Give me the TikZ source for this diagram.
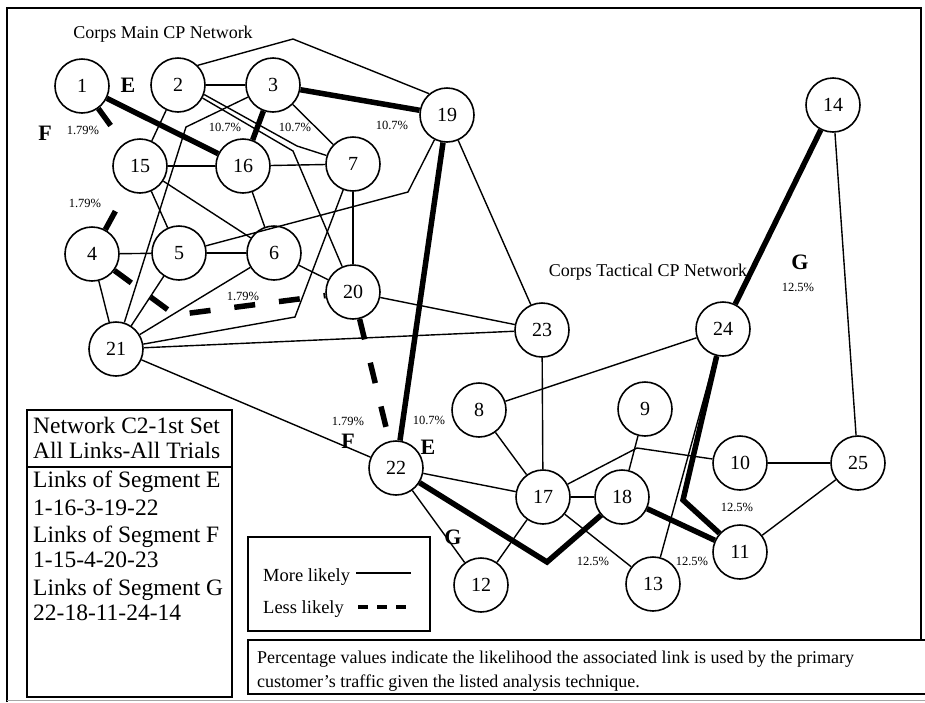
\documentclass[tikz,border=0pt]{standalone}
\usepackage{fontspec}
\setmainfont{Liberation Serif}
\usetikzlibrary{calc}

\begin{document}
\begin{tikzpicture}[x=1pt,y=-1pt,
  nd/.style={circle,draw,line width=1.6pt,minimum size=54pt,inner sep=0pt,
             font=\fontsize{20}{20}\selectfont},
  ln/.style={line width=1.4pt},
  morel/.style={line width=5.5pt},
  lessl/.style={line width=5.5pt,dash pattern=on 21pt off 24pt},
  pct/.style={inner sep=0pt,font=\fontsize{12.5}{13}\selectfont},
  seg/.style={inner sep=0pt,font=\bfseries\fontsize{22}{22}\selectfont},
  ttl/.style={inner sep=0pt,font=\fontsize{18}{18}\selectfont},
  legtxt/.style={inner sep=0pt,anchor=base west,font=\fontsize{23.5}{24}\selectfont},
  keytxt/.style={inner sep=0pt,anchor=base west,font=\fontsize{18.5}{19}\selectfont},
  notetxt/.style={inner sep=0pt,anchor=base west,font=\fontsize{18}{18}\selectfont},
  boxline/.style={line width=1.4pt},
]
\useasboundingbox (0,0) rectangle (925,702);
\clip (0,0) rectangle (925,702);

% outer frame
\draw[boxline] (7,702) -- (7,8) -- (921,8) -- (921,640);
\draw[line width=1pt,black!35] (7,700) -- (925,700);

% nodes
\node[nd] (n1)  at (82,86)   {1};
\node[nd] (n2)  at (178,85)  {2};
\node[nd] (n3)  at (273,85)  {3};
\node[nd] (n19) at (447,115) {19};
\node[nd] (n15) at (140,166) {15};
\node[nd] (n16) at (243,166) {16};
\node[nd] (n7)  at (353,164) {7};
\node[nd] (n4)  at (92,254)  {4};
\node[nd] (n5)  at (179,253) {5};
\node[nd] (n6)  at (274,253) {6};
\node[nd] (n20) at (353,292) {20};
\node[nd] (n21) at (116,349) {21};
\node[nd] (n23) at (542,330) {23};
\node[nd] (n24) at (723,329) {24};
\node[nd] (n14) at (833,105) {14};
\node[nd] (n8)  at (479,410) {8};
\node[nd] (n9)  at (645,409) {9};
\node[nd] (n22) at (396,468) {22};
\node[nd] (n17) at (543,497) {17};
\node[nd] (n18) at (622,497) {18};
\node[nd] (n10) at (740,463) {10};
\node[nd] (n25) at (858,463) {25};
\node[nd] (n11) at (740,552) {11};
\node[nd] (n12) at (481,585) {12};
\node[nd] (n13) at (653,584) {13};

% bend points of the links
\coordinate (b2-19)  at (293,39);
\coordinate (b2-7)   at (297,146);
\coordinate (b2-20)  at (293,151);
\coordinate (b3-21)  at (186,127);
\coordinate (b21-7)  at (295,317);
\coordinate (b5-19)  at (408,192);
\coordinate (b4-20)  at (175,315);
\coordinate (b17-10) at (637,448);
\coordinate (b22-18) at (547,562);
\coordinate (b24-11) at (683,500);

% ordinary links
\draw[ln] (n2.45) -- (b2-19) -- (n19.130);
\draw[ln] (n2) -- (n3);
\draw[ln] (n2.-20) -- (b2-7) -- (n7);
\draw[ln] (n2.-28) -- (b2-20) -- (n20);
\draw[ln] (n2) -- (n15);
\draw[ln] (n3) -- (n7);
\draw[ln] (n3) -- (b3-21) -- (n21);
\draw[ln] (n15) -- (n16);
\draw[ln] (n16) -- (n7);
\draw[ln] (n15) -- (n5);
\draw[ln] (n15) -- (n6);
\draw[ln] (n16) -- (n6);
\draw[ln] (n7) -- (n20);
\draw[ln] (n6) -- (n20);
\draw[ln] (n4) -- (n5);
\draw[ln] (n5) -- (n6);
\draw[ln] (n4) -- (n21);
\draw[ln] (n5) -- (n21);
\draw[ln] (n6) -- (n21);
\draw[ln] (n21) -- (b21-7) -- (n7);
\draw[ln] (n21) -- (n23);
\draw[ln] (n21) -- (n22);
\draw[ln] (n20) -- (n23);
\draw[ln] (n5) -- (b5-19) -- (n19);
\draw[ln] (n19) -- (n23);
\draw[ln] (n23) -- (n17);
\draw[ln] (n24) -- (n8);
\draw[ln] (n8) -- (n17);
\draw[ln] (n22) -- (n17);
\draw[ln] (n22) -- (n12);
\draw[ln] (n17) -- (n12);
\draw[ln] (n17) -- (n18);
\draw[ln] (n17) -- (n13);
\draw[ln] (n17) -- (b17-10) -- (n10);
\draw[ln] (n9) -- (n18);
\draw[ln] (n24) -- (n13);
\draw[ln] (n10) -- (n25);
\draw[ln] (n11) -- (n25);
\draw[ln] (n14) -- (n25);

% more likely links
\draw[morel] (n1) -- (n16);
\draw[morel] (n3) -- (n16);
\draw[morel] (n3) -- (n19);
\draw[morel] (n19) -- (n22);
\draw[morel,line join=miter] (n22) -- (b22-18) -- (n18);
\draw[morel] (n18) -- (n11);
\draw[morel,line join=miter] (n11) -- (b24-11) -- (n24);
\draw[morel] (n24) -- (n14);

% less likely links
\draw[lessl] (n1) -- (n15);
\draw[lessl] (n4) -- (n15);
\draw[lessl] (n4) -- (b4-20) -- (n20);
\draw[lessl] (n20) -- (n22);

% titles, segment letters and percentages
\node[ttl] (tmain) at (163,34)  {Corps Main CP Network};
\node[ttl] (ttac)  at (648,272) {Corps Tactical CP Network};
\node[seg] (e1) at (128,85)  {E};
\node[seg] (f1) at (45,133)  {F};
\node[seg] (f2) at (348,441) {F};
\node[seg] (e2) at (428,447) {E};
\node[seg] (g1) at (800,262) {G};
\node[seg] (g2) at (453,537) {G};
\node[pct] (p1)  at (83,130)  {1.79\%};
\node[pct] (p2)  at (225,127) {10.7\%};
\node[pct] (p3)  at (295,127) {10.7\%};
\node[pct] (p4)  at (392,125) {10.7\%};
\node[pct] (p5)  at (85,203)  {1.79\%};
\node[pct] (p6)  at (243,296) {1.79\%};
\node[pct] (p7)  at (348,421) {1.79\%};
\node[pct] (p8)  at (429,420) {10.7\%};
\node[pct] (p9)  at (798,287) {12.5\%};
\node[pct] (p10) at (593,561) {12.5\%};
\node[pct] (p11) at (692,561) {12.5\%};
\node[pct] (p12) at (737,507) {12.5\%};

% segment list
\draw[boxline] (27,410) rectangle (232,697);
\draw[boxline] (27,467) -- (232,467);
\node[legtxt] (l1) at (33,433) {Network C2-1st Set};
\node[legtxt] (l2) at (33,458) {All Links-All Trials};
\node[legtxt] (l3) at (33,487) {Links of Segment E};
\node[legtxt] (l4) at (33,515) {1-16-3-19-22};
\node[legtxt] (l5) at (33,542) {Links of Segment F};
\node[legtxt] (l6) at (33,567) {1-15-4-20-23};
\node[legtxt] (l7) at (33,595) {Links of Segment G};
\node[legtxt] (l8) at (33,620) {22-18-11-24-14};

% line key
\draw[boxline] (248,537) rectangle (430,631);
\node[keytxt] (km) at (263,581) {More likely};
\node[keytxt] (kl) at (263,613) {Less likely};
\coordinate (km1) at (356,573);
\coordinate (km2) at (411,573);
\coordinate (kl1) at (358,607);
\coordinate (kl2) at (414,607);
\draw[line width=2.4pt] (km1) -- (km2);
\draw[line width=3.5pt,dash pattern=on 10pt off 9pt] (kl1) -- (kl2);

% note
\draw[boxline] (248,640) rectangle (935,694);
\node[notetxt] (n1t) at (257,663) {Percentage values indicate the likelihood the associated link is used by the primary};
\node[notetxt] (n2t) at (257,687) {customer’s traffic given the listed analysis technique.};
\end{tikzpicture}
\end{document}
